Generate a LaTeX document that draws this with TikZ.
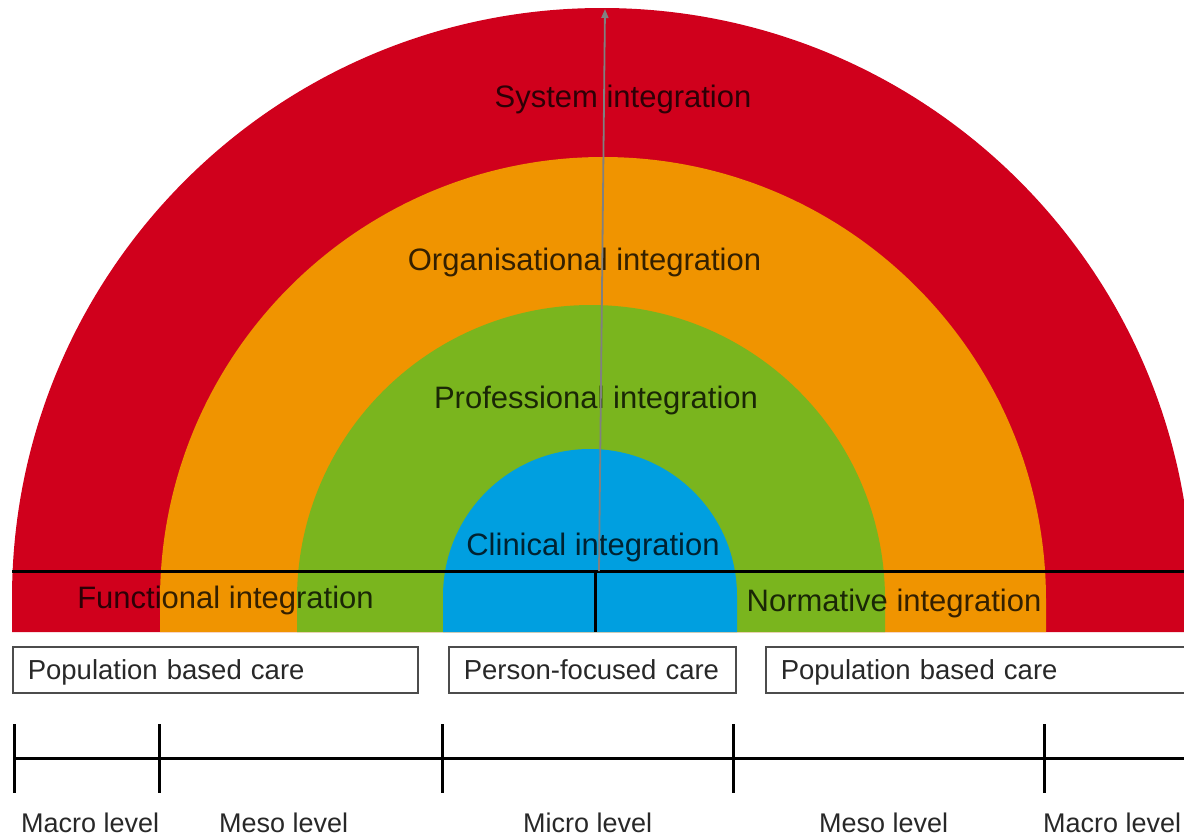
\documentclass[tikz,border=0pt]{standalone}
\usepackage{fontspec}
\setmainfont{Liberation Sans}
\usetikzlibrary{arrows.meta}
\definecolor{cred}{RGB}{208,0,28}
\definecolor{corange}{RGB}{240,148,0}
\definecolor{cgreen}{RGB}{122,181,30}
\definecolor{cblue}{RGB}{0,159,224}
\definecolor{cgreyline}{RGB}{128,128,128}
\definecolor{ctext}{RGB}{40,40,40}
\begin{document}
\begin{tikzpicture}[x=1pt,y=1pt,
  ilabel/.style={font=\fontsize{31}{37}\selectfont, text=black, text opacity=0.78, inner sep=0pt, anchor=base},
  carebox/.style={draw=black!70, line width=1.6pt, fill=white, anchor=north west, minimum height=46pt, inner xsep=14pt, inner ysep=0pt, text height=23pt, text depth=3pt, align=left, font=\fontsize{27.5}{33}\selectfont, text=ctext},
  lvl/.style={font=\fontsize{27}{32}\selectfont, text=ctext, inner sep=0pt, anchor=base west},
  divline/.style={draw=black, line width=3pt},
  scaleline/.style={draw=black, line width=3pt},
  scaletick/.style={draw=black, line width=3pt},
  axisarrow/.style={draw=cgreyline, line width=1.8pt, -{Triangle[length=9pt,width=7pt]}}
]
\useasboundingbox (0,0) rectangle (1184,-839);
\clip (0,0) rectangle (1184,-839);

% rings
\fill[cred] (12,-632) -- (12,-598) arc[start angle=180,end angle=0,radius=590] -- (1192,-632) -- cycle;
\fill[corange] (160,-632) -- (160,-600) arc[start angle=180,end angle=0,radius=443] -- (1046,-632) -- cycle;
\fill[cgreen] (297,-632) -- (297,-599) arc[start angle=180,end angle=0,radius=294] -- (885,-599) -- (885,-632) -- cycle;
\fill[cblue] (443,-632) -- (443,-596) arc[start angle=180,end angle=0,radius=147] -- (737,-596) -- (737,-632) -- cycle;

% labels in rings
\node[ilabel] (sys) at (623,-107) {System integration};
\node[ilabel] (org) at (584.5,-270) {Organisational integration};
\node[ilabel] (prof) at (596,-408) {Professional integration};
\node[ilabel] (clin) at (593,-555) {Clinical integration};
\node[ilabel] (func) at (225.5,-608) {Functional integration};
\node[ilabel] (norm) at (894,-611) {Normative integration};

% dividing lines
\coordinate (hl) at (12,-571);
\coordinate (hr) at (1184,-571);
\coordinate (vt) at (595,-571);
\coordinate (vb) at (595,-632);
\draw[divline] (hl) -- (hr);
\draw[divline] (vt) -- (vb);

% arrow
\coordinate (arrS) at (599,-571);
\coordinate (arrE) at (605,-9);
\draw[axisarrow] (arrS) -- (arrE);

% care boxes
\node[carebox, minimum width=405pt, text width=375pt] (popL) at (12,-646) {Population based care};
\node[carebox, minimum width=287pt, text width=257pt] (pers) at (448,-646) {Person-focused care};
\node[carebox, minimum width=430pt, text width=400pt] (popR) at (765,-646) {Population based care};

% scale
\coordinate (s0) at (13,-758);
\coordinate (s5) at (1184,-758);
\draw[scaleline] (s0) -- (s5);
\foreach \n/\x in {t1/14,t2/159,t3/442,t4/733,t5/1044}{
  \coordinate (\n top) at (\x,-724);
  \coordinate (\n bot) at (\x,-793);
  \draw[scaletick] (\n top) -- (\n bot);
}

% level labels
\node[lvl] (mac1) at (21,-832) {Macro level};
\node[lvl] (mes1) at (219,-832) {Meso level};
\node[lvl] (mic) at (523,-832) {Micro level};
\node[lvl] (mes2) at (819,-832) {Meso level};
\node[lvl] (mac2) at (1043,-832) {Macro level};
\end{tikzpicture}
\end{document}
